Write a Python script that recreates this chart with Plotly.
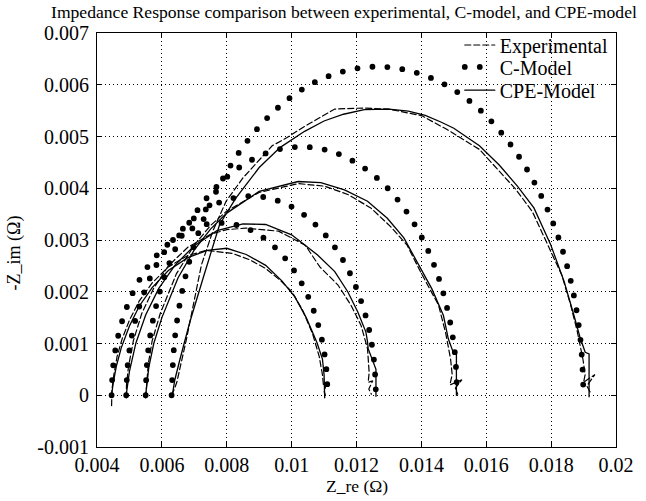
import plotly.graph_objects as go

# ---------------- data ----------------
# Experimental (dashed)
exp_a_x = [0.00445, 0.00446, 0.00452, 0.00462, 0.00478, 0.00500, 0.00530, 0.00570, 0.00620, 0.00680, 0.00737, 0.00818, 0.00870, 0.00920, 0.00965, 0.01001, 0.01035, 0.01065, 0.01085, 0.01095, 0.01098, 0.01108, 0.01100, 0.01104]
exp_a_y = [-0.00020, 0.00010, 0.00040, 0.00075, 0.00110, 0.00145, 0.00182, 0.00217, 0.00248, 0.00270, 0.00280, 0.00274, 0.00262, 0.00245, 0.00222, 0.00200, 0.00163, 0.00118, 0.00075, 0.00040, 0.00020, 0.00022, 0.00008, 0.00000]
exp_b_x = [0.00490, 0.00491, 0.00497, 0.00512, 0.00538, 0.00575, 0.00620, 0.00680, 0.00750, 0.00800, 0.00859, 0.00960, 0.01042, 0.01087, 0.01143, 0.01183, 0.01214, 0.01234, 0.01239, 0.01236, 0.01250, 0.01238, 0.01246]
exp_b_y = [-0.00005, 0.00020, 0.00055, 0.00105, 0.00158, 0.00207, 0.00250, 0.00286, 0.00311, 0.00320, 0.00323, 0.00317, 0.00290, 0.00248, 0.00213, 0.00174, 0.00135, 0.00090, 0.00044, 0.00025, 0.00028, 0.00012, 0.00002]
exp_c_x = [0.00550, 0.00553, 0.00558, 0.00570, 0.00595, 0.00645, 0.00700, 0.00750, 0.00800, 0.00900, 0.01021, 0.01102, 0.01173, 0.01244, 0.01305, 0.01356, 0.01397, 0.01453, 0.01475, 0.01490, 0.01495, 0.01488, 0.01525, 0.01505, 0.01512]
exp_c_y = [-0.00005, 0.00025, 0.00060, 0.00105, 0.00158, 0.00235, 0.00290, 0.00328, 0.00356, 0.00392, 0.00409, 0.00404, 0.00388, 0.00362, 0.00326, 0.00290, 0.00239, 0.00174, 0.00120, 0.00070, 0.00040, 0.00020, 0.00030, 0.00014, 0.00002]
exp_d_x = [0.00630, 0.00636, 0.00646, 0.00676, 0.00701, 0.00722, 0.00757, 0.00798, 0.00850, 0.00905, 0.00940, 0.00986, 0.01036, 0.01133, 0.01220, 0.01300, 0.01402, 0.01448, 0.01478, 0.01579, 0.01691, 0.01742, 0.01792, 0.01833, 0.01860, 0.01880, 0.01898, 0.01905, 0.01900, 0.01935, 0.01910, 0.01922]
exp_d_y = [0.0, 0.00008, 0.00025, 0.00109, 0.00187, 0.00252, 0.00317, 0.00375, 0.00420, 0.00459, 0.00482, 0.00498, 0.00518, 0.00553, 0.00555, 0.00553, 0.00540, 0.00524, 0.00514, 0.00475, 0.00398, 0.00355, 0.00287, 0.00232, 0.00175, 0.00125, 0.00070, 0.00040, 0.00025, 0.00040, 0.00018, 0.00004]

# C-Model (dotted)
cm_a_x = [0.00445, 0.00450, 0.00465, 0.00490, 0.00523, 0.00564, 0.00612, 0.00664, 0.00720, 0.00778, 0.00836, 0.00892, 0.00945, 0.00992, 0.01033, 0.01066, 0.01091, 0.01106, 0.01111]
cm_a_y = [0.0, 0.00058, 0.00114, 0.00167, 0.00214, 0.00255, 0.00288, 0.00313, 0.00328, 0.00333, 0.00328, 0.00313, 0.00288, 0.00255, 0.00214, 0.00167, 0.00114, 0.00058, 0.0]
cm_b_x = [0.00490, 0.00496, 0.00513, 0.00542, 0.00580, 0.00628, 0.00683, 0.00743, 0.00808, 0.00875, 0.00942, 0.01007, 0.01068, 0.01123, 0.01170, 0.01208, 0.01237, 0.01254, 0.01260]
cm_b_y = [0.0, 0.00067, 0.00132, 0.00193, 0.00248, 0.00295, 0.00333, 0.00362, 0.00379, 0.00385, 0.00379, 0.00362, 0.00333, 0.00295, 0.00248, 0.00193, 0.00132, 0.00067, 0.0]
cm_c_x = [0.00550, 0.00557, 0.00579, 0.00614, 0.00662, 0.00722, 0.00790, 0.00866, 0.00947, 0.01030, 0.01113, 0.01194, 0.01270, 0.01339, 0.01398, 0.01446, 0.01481, 0.01503, 0.01510]
cm_c_y = [0.0, 0.00083, 0.00164, 0.00240, 0.00309, 0.00368, 0.00416, 0.00451, 0.00473, 0.00480, 0.00473, 0.00451, 0.00416, 0.00368, 0.00309, 0.00240, 0.00164, 0.00083, 0.0]
cm_d_x = [0.00630, 0.00640, 0.00668, 0.00715, 0.00779, 0.00857, 0.00948, 0.01048, 0.01155, 0.01265, 0.01375, 0.01482, 0.01583, 0.01673, 0.01751, 0.01815, 0.01862, 0.01890, 0.01900]
cm_d_y = [0.0, 0.00110, 0.00217, 0.00318, 0.00408, 0.00486, 0.00550, 0.00597, 0.00625, 0.00635, 0.00625, 0.00597, 0.00550, 0.00486, 0.00408, 0.00318, 0.00217, 0.00110, 0.0]

# CPE-Model (solid)
cpe_a_x = [0.00445, 0.00450, 0.00460, 0.00475, 0.00500, 0.00530, 0.00570, 0.00620, 0.00680, 0.00740, 0.00800, 0.00860, 0.00920, 0.00970, 0.01010, 0.01045, 0.01078, 0.01095, 0.01100, 0.01102, 0.01102]
cpe_a_y = [0.0, 0.00024, 0.00057, 0.00092, 0.00134, 0.00172, 0.00208, 0.00241, 0.00266, 0.00280, 0.00284, 0.00272, 0.00251, 0.00221, 0.00190, 0.00150, 0.00102, 0.00070, 0.00040, 0.00010, -0.00005]
cpe_b_x = [0.00490, 0.00493, 0.00500, 0.00520, 0.00550, 0.00590, 0.00640, 0.00700, 0.00770, 0.00850, 0.00920, 0.01000, 0.01080, 0.01133, 0.01173, 0.01204, 0.01229, 0.01234, 0.01236, 0.01260, 0.01260]
cpe_b_y = [0.0, 0.00017, 0.00046, 0.00101, 0.00155, 0.00206, 0.00251, 0.00289, 0.00318, 0.00331, 0.00330, 0.00310, 0.00271, 0.00239, 0.00200, 0.00161, 0.00122, 0.00103, 0.00090, 0.00050, -0.00002]
cpe_c_x = [0.00550, 0.00554, 0.00560, 0.00575, 0.00600, 0.00650, 0.00700, 0.00750, 0.00800, 0.00900, 0.01020, 0.01090, 0.01163, 0.01234, 0.01295, 0.01346, 0.01397, 0.01432, 0.01468, 0.01483, 0.01500, 0.01508, 0.01508]
cpe_c_y = [0.0, 0.00020, 0.00055, 0.00100, 0.00150, 0.00227, 0.00281, 0.00321, 0.00352, 0.00394, 0.00413, 0.00411, 0.00397, 0.00375, 0.00342, 0.00304, 0.00245, 0.00206, 0.00154, 0.00109, 0.00080, 0.00080, 0.00000]
cpe_d_x = [0.00632, 0.00640, 0.00656, 0.00686, 0.00727, 0.00778, 0.00828, 0.00900, 0.00965, 0.01040, 0.01100, 0.01160, 0.01224, 0.01300, 0.01360, 0.01412, 0.01460, 0.01500, 0.01579, 0.01640, 0.01696, 0.01747, 0.01798, 0.01840, 0.01870, 0.01890, 0.01905, 0.01917, 0.01917]
cpe_d_y = [0.0, 0.00030, 0.00070, 0.00141, 0.00226, 0.00330, 0.00381, 0.00440, 0.00479, 0.00510, 0.00530, 0.00543, 0.00552, 0.00553, 0.00549, 0.00541, 0.00528, 0.00516, 0.00482, 0.00445, 0.00404, 0.00362, 0.00292, 0.00220, 0.00155, 0.00110, 0.00083, 0.00080, -0.00003]

x_tickvals = [0.004, 0.006, 0.008, 0.010, 0.012, 0.014, 0.016, 0.018, 0.020]
x_ticktext = ["0.004", "0.006", "0.008", "0.01", "0.012", "0.014", "0.016", "0.018", "0.02"]
y_tickvals = [-0.001, 0.0, 0.001, 0.002, 0.003, 0.004, 0.005, 0.006, 0.007]
y_ticktext = ["-0.001", "0", "0.001", "0.002", "0.003", "0.004", "0.005", "0.006", "0.007"]

series_names = ["Experimental", "C-Model", "CPE-Model"]
title_text = "Impedance Response comparison between experimental, C-model, and CPE-model"
x_title = "Z_re (Ω)"
y_title = "-Z_im (Ω)"

# ---------------- figure ----------------
FONT = "Liberation Serif, Times New Roman, serif"
fig = go.Figure()

exp_sets = [(exp_a_x, exp_a_y), (exp_b_x, exp_b_y), (exp_c_x, exp_c_y), (exp_d_x, exp_d_y)]
cm_sets = [(cm_a_x, cm_a_y), (cm_b_x, cm_b_y), (cm_c_x, cm_c_y), (cm_d_x, cm_d_y)]
cpe_sets = [(cpe_a_x, cpe_a_y), (cpe_b_x, cpe_b_y), (cpe_c_x, cpe_c_y), (cpe_d_x, cpe_d_y)]

for i, (xs, ys) in enumerate(exp_sets):
    fig.add_trace(go.Scatter(x=xs, y=ys, mode="lines", name=series_names[0],
                             showlegend=(i == 0), legend="legend",
                             line=dict(color="black", width=1.2, dash="6px,3px")))
for i, (xs, ys) in enumerate(cm_sets):
    fig.add_trace(go.Scatter(x=xs, y=ys, mode="lines", name=series_names[1],
                             showlegend=(i == 0), legend="legend2",
                             line=dict(color="black", width=5.8, dash="0px,15px",
                                       shape="spline", smoothing=1.0)))
for i, (xs, ys) in enumerate(cpe_sets):
    fig.add_trace(go.Scatter(x=xs, y=ys, mode="lines", name=series_names[2],
                             showlegend=(i == 0), legend="legend3",
                             line=dict(color="black", width=1.3)))

axis_common = dict(
    showgrid=True, gridcolor="black", gridwidth=1, griddash="1px,3px",
    showline=True, linecolor="black", linewidth=1, mirror="ticks",
    ticks="inside", ticklen=5, tickcolor="black", zeroline=False,
    tickfont=dict(family=FONT, size=20, color="black"),
)

leg_common = dict(x=0.699, xanchor="left", yanchor="middle",
                  bgcolor="rgba(0,0,0,0)", borderwidth=0,
                  font=dict(family=FONT, size=20, color="black"),
                  itemwidth=30)

fig.update_layout(
    width=646, height=501,
    margin=dict(l=97, r=25, t=33, b=54),
    paper_bgcolor="white", plot_bgcolor="white",
    font=dict(family=FONT, color="black"),
    title=dict(text=title_text,
               font=dict(family=FONT, size=17.6, color="black"),
               x=0.079, xref="container", xanchor="left",
               y=0.976, yref="container", yanchor="middle"),
    xaxis=dict(range=[0.004, 0.02], tickvals=x_tickvals, ticktext=x_ticktext,
               **axis_common),
    yaxis=dict(range=[-0.001, 0.007], tickvals=y_tickvals, ticktext=y_ticktext,
               ticklabelstandoff=3, **axis_common),
    legend=dict(y=0.971, **leg_common),
    legend2=dict(y=0.918, **leg_common),
    legend3=dict(y=0.862, **leg_common),
    showlegend=True,
    annotations=[
        dict(text=x_title, xref="paper", yref="paper", x=0.5, y=-0.0942,
             xanchor="center", yanchor="middle", showarrow=False,
             font=dict(family=FONT, size=17.5, color="black")),
        dict(text=y_title, xref="paper", yref="paper", x=-0.16, y=0.47,
             xanchor="center", yanchor="middle", showarrow=False, textangle=-90,
             font=dict(family=FONT, size=18, color="black")),
    ],
)

post = ("document.body.style.margin='0';"
        "var s=document.createElement('style');"
        "s.textContent='body{margin:0 !important;} path.js-line{stroke-linecap:round !important;}';"
        "document.head.appendChild(s);")
fig.write_html("out.html", post_script=post, config={"displayModeBar": False})
